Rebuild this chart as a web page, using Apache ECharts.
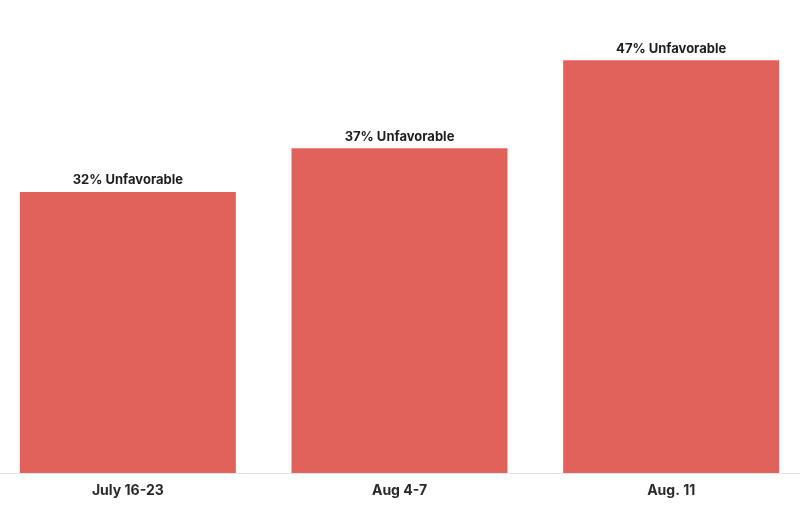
<!DOCTYPE html>
<html>
<head>
<meta charset="utf-8">
<script src="https://cdn.jsdelivr.net/npm/echarts@6/dist/echarts.min.js"></script>
<style>
  html, body { margin:0; padding:0; background:#fff; }
  #chart { width:800px; height:524px; }
</style>
</head>
<body>
<div id="chart"></div>
<script>
// data
const categories = ["July 16-23", "Aug 4-7", "Aug. 11"];
const unfavorable = [32, 37, 47];

const chart = echarts.init(document.getElementById("chart"));
chart.setOption({
  backgroundColor: "#fff",
  animation: false,
  grid: { left: -8, right: -7, top: 34, bottom: 51, outerBoundsMode: "none", containLabel: false },
  xAxis: {
    type: "category",
    data: categories,
    axisLine: { lineStyle: { color: "#e4e4e4", width: 1 } },
    axisTick: { alignWithLabel: true, length: 5, lineStyle: { color: "#dcdcdc" } },
    axisLabel: {
      color: "#2a2a2a", fontFamily: "Inter, Roboto, sans-serif",
      fontWeight: "bold", fontSize: 14, margin: 11
    }
  },
  yAxis: {
    type: "value", min: 0, max: 50,
    show: false, splitLine: { show: false }
  },
  series: [{
    type: "bar",
    data: unfavorable,
    barWidth: 216,
    itemStyle: { color: "#e0625a" },
    label: {
      show: true, position: "top", distance: 5,
      formatter: (p) => p.value + "% Unfavorable",
      color: "#1e1e1e", fontFamily: "Inter, Roboto, sans-serif",
      fontWeight: "bold", fontSize: 13
    }
  }]
});
</script>
</body>
</html>
